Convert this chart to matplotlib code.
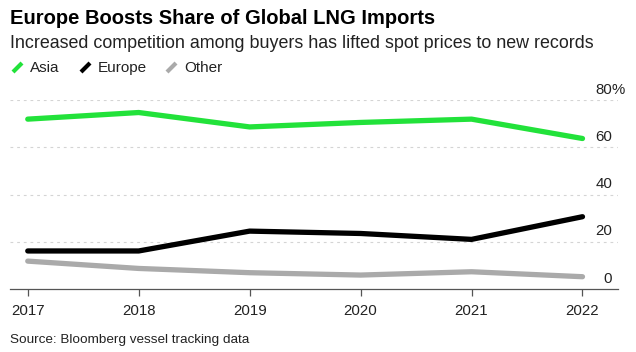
import matplotlib.pyplot as plt
from matplotlib.lines import Line2D

plt.rcParams['font.family'] = ['Liberation Sans', 'DejaVu Sans']

years = [2017, 2018, 2019, 2020, 2021, 2022]
asia = [71.9, 74.7, 68.6, 70.5, 71.9, 63.7]
europe = [16.1, 16.1, 24.5, 23.5, 21.0, 30.6]
other = [11.8, 8.7, 6.9, 5.9, 7.3, 5.2]
y_ticks = [0, 20, 40, 60, 80]

series = [("Asia", asia, "#22e23a"), ("Europe", europe, "#000000"), ("Other", other, "#aaaaaa")]

W, H = 636, 352
fig = plt.figure(figsize=(W / 100, H / 100), dpi=100)
ax = fig.add_axes([10 / W, (H - 289) / H, 608 / W, 189 / H])

for name, vals, col in series[::-1]:
    ax.plot(years, vals, color=col, lw=3.8, solid_capstyle='round', solid_joinstyle='round', zorder=3)

ax.set_xlim(2016.84, 2022.32)
ax.set_ylim(0, 80)
for v in y_ticks[1:]:
    ax.axhline(v, color='#d4d4d4', lw=0.8, ls=(0, (2.5, 3.5)), zorder=1)
for s in ['top', 'right', 'left']:
    ax.spines[s].set_visible(False)
ax.spines['bottom'].set_color('#555555')
ax.spines['bottom'].set_linewidth(0.9)
ax.set_yticks([])
ax.set_xticks(years)
ax.set_xticklabels([str(y) for y in years], fontsize=10.8, color='#222222')
ax.tick_params(axis='x', length=5, width=0.9, color='#555555', pad=6)

# right-side y labels sitting above the gridlines
xr = (612 - 10) / 608
for v in y_ticks:
    ax.text(xr, v + 1.4, str(v), transform=ax.get_yaxis_transform(),
            ha='right', va='bottom', fontsize=10.8, color='#222222')
    if v == 80:
        ax.text(xr, v + 1.4, "%", transform=ax.get_yaxis_transform(),
                ha='left', va='bottom', fontsize=10.8, color='#222222', clip_on=False)

fig.text(10 / W, 1 - 18 / H, "Europe Boosts Share of Global LNG Imports",
         fontsize=14.5, fontweight='bold', va='center', ha='left')
fig.text(10 / W, 1 - 44 / H, "Increased competition among buyers has lifted spot prices to new records",
         fontsize=12.9, va='center', ha='left', color='#222222')

lx = [12, 80, 166]
for (name, vals, col), x0 in zip(series, lx):
    fig.add_artist(Line2D([(x0 + 1) / W, (x0 + 10) / W], [1 - 72 / H, 1 - 63 / H],
                          color=col, lw=3.0, solid_capstyle='butt'))
    fig.text((x0 + 18) / W, 1 - 68 / H, name, fontsize=11, va='center', ha='left', color='#222222')

fig.text(10 / W, 1 - 340 / H, "Source: Bloomberg vessel tracking data",
         fontsize=9.7, va='center', ha='left', color='#222222')

fig.savefig("out.png", dpi=100)
